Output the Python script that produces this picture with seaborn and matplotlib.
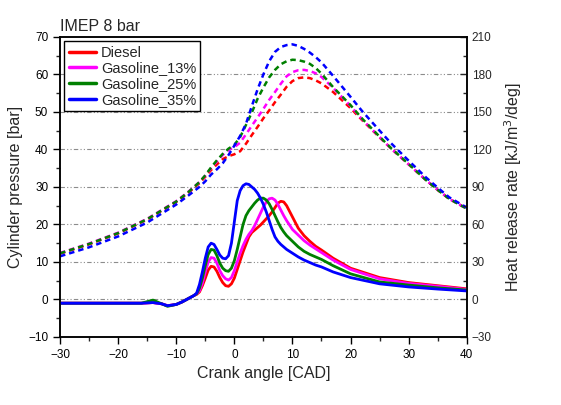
import numpy as np
import pandas as pd
import seaborn as sns
import matplotlib.pyplot as plt
from matplotlib.ticker import MultipleLocator

sns.set_style('ticks')
plt.rcParams['font.family'] = ['Liberation Sans', 'DejaVu Sans']

# Dados
fuels = ['Diesel', 'Gasoline_13%', 'Gasoline_25%', 'Gasoline_35%']
colors = ['#ff0000', '#ff00ff', '#008000', '#0000ff']

# pressão no cilindro [bar]
x_p = [-30, -25, -20, -15, -10, -8, -6, -5, -4, -3, -2, -1, 0, 1, 2, 3, 4, 5, 6, 7, 8,
       9, 10, 11, 12, 13, 14, 15, 17, 20, 22, 25, 27, 30, 33, 35, 37, 40]
p_diesel = [12.2, 14.7, 17.6, 21.3, 26.0, 28.3, 31.0, 32.7, 34.5, 36.0, 37.4, 38.2, 38.7,
            39.5, 41.5, 43.8, 46.0, 48.3, 50.4, 52.6, 54.6, 56.7, 58.2, 59.0, 59.2, 59.0,
            58.4, 57.6, 55.3, 51.0, 47.8, 43.2, 40.2, 36.0, 31.8, 29.2, 26.8, 24.2]
p_g13 = [12.4, 14.9, 17.8, 21.5, 26.2, 28.6, 31.3, 33.0, 35.0, 36.8, 38.5, 39.8, 40.6,
         41.8, 44.0, 46.3, 48.5, 50.8, 53.2, 55.3, 57.5, 59.5, 60.6, 61.1, 61.2, 60.9,
         60.3, 59.3, 56.4, 51.6, 48.0, 43.3, 40.2, 36.0, 31.8, 29.2, 26.8, 24.2]
p_g25 = [12.3, 14.8, 17.7, 21.4, 26.1, 28.5, 31.3, 33.1, 35.2, 37.1, 38.8, 40.2, 41.2,
         43.3, 46.5, 49.8, 53.5, 56.5, 59.2, 61.2, 62.7, 63.5, 63.9, 63.8, 63.4, 62.8,
         61.7, 60.2, 56.6, 51.8, 48.2, 43.4, 40.3, 36.1, 31.8, 29.2, 26.8, 24.2]
p_g35 = [11.5, 13.9, 16.8, 20.5, 25.3, 27.6, 30.0, 31.5, 33.3, 34.7, 36.3, 38.5, 41.0,
         43.6, 46.8, 51.5, 56.0, 60.0, 63.5, 66.0, 67.3, 67.8, 68.0, 67.6, 66.8, 65.8,
         64.6, 63.2, 59.6, 54.0, 50.2, 45.0, 41.6, 37.0, 32.5, 29.8, 27.2, 24.5]

# taxa de liberação de calor [kJ/m3/deg]
x_h = [-30, -25, -20, -16, -14, -12.5, -11.5, -10, -9, -8, -7, -6.5, -6, -5.5, -5, -4.5,
       -4, -3.5, -3, -2.5, -2, -1.5, -1, -0.5, 0, 0.5, 1, 1.5, 2, 2.5, 3, 3.5, 4, 4.5,
       5, 5.5, 6, 6.5, 7, 7.5, 8, 8.5, 9, 10, 11, 12, 13, 14, 15, 17, 20, 25, 30, 35, 40]
h_diesel = [-3, -3, -3, -3, -2.5, -3.5, -5, -4, -2, 0.5, 3, 4, 6, 11, 17, 23.5,
            26.5, 26, 22.5, 17.5, 13.5, 11, 10.5, 12.5, 17, 24, 31, 38, 44, 50, 53.5, 55.5,
            57.5, 59.5, 62, 64.5, 67, 70, 73.5, 77, 78.5, 78, 75, 66, 57, 51, 46.5, 42.5,
            39.5, 33, 25, 17.5, 13.5, 11, 8.5]
h_g13 = [-3, -3, -3, -3, -2.5, -3.5, -5, -4, -2, 0.5, 3, 4.5, 7, 13, 22, 30,
         33.5, 33, 29, 23, 19, 16.5, 15.5, 17.5, 23, 30, 37, 43, 48, 52, 55, 59,
         64, 69, 74, 78, 80.5, 81, 79.5, 76, 71.5, 67, 63, 56, 51.5, 47, 43.5, 40.5,
         37.5, 31.5, 24, 16.5, 12.8, 10.5, 8]
h_g25 = [-3, -3, -3, -3, -0.5, -3.5, -5.5, -4, -2, 0.5, 3, 4.5, 9, 17, 27, 36,
         40, 39.5, 35, 29, 25, 23, 22.5, 25, 31, 40, 50, 60, 67, 71, 74, 77,
         79.5, 81, 81, 79.5, 76.5, 72, 67, 62, 57.5, 54, 51, 46.5, 42, 38.5, 36, 34,
         32, 27, 20.5, 14, 11.5, 9.3, 7.5]
h_g35 = [-3, -3, -3, -3, -2.5, -3.5, -5, -4, -2, 0.5, 3, 5, 12, 22, 33, 42,
         45, 44, 40, 35.5, 33, 32.5, 35, 45, 62, 79, 87, 91, 92.5, 92, 90, 88,
         85, 81, 76, 70, 63, 56, 50, 46.5, 44, 42, 40, 37, 34, 31.5, 29.5, 27.5,
         26, 22, 17.5, 12.5, 10, 8.3, 6.8]

pressures = [p_diesel, p_g13, p_g25, p_g35]
hrrs = [h_diesel, h_g13, h_g25, h_g35]

fig = plt.figure(figsize=(5.61, 4.05), dpi=100)
ax = fig.add_axes([0.107, 0.168, 0.725, 0.741])
ax2 = ax.twinx()

# grade horizontal (traço-ponto-ponto)
for v in range(0, 70, 10):
    ax.axhline(v, color='#8c8c8c', lw=0.8, ls=(0, (4, 2, 1, 2, 1, 2)), zorder=0)

for nome, cor, p in zip(fuels, colors, pressures):
    sns.lineplot(x=x_p, y=p, ax=ax, color=cor, lw=1.8, linestyle=(0, (2.2, 1.6)))

for nome, cor, h in zip(fuels, colors, hrrs):
    sns.lineplot(x=x_h, y=h, ax=ax2, color=cor, lw=2.0, label=nome)

ax.set_xlim(-30, 40)
ax.set_ylim(-10, 70)
ax2.set_ylim(-30, 210)

ax.xaxis.set_major_locator(MultipleLocator(10))
ax.xaxis.set_minor_locator(MultipleLocator(5))
ax.yaxis.set_major_locator(MultipleLocator(10))
ax.yaxis.set_minor_locator(MultipleLocator(5))
ax2.yaxis.set_major_locator(MultipleLocator(30))
ax2.yaxis.set_minor_locator(MultipleLocator(15))

ax.tick_params(axis='both', which='major', direction='out', length=5, width=1,
               labelsize=8.5, colors='black')
ax.tick_params(axis='both', which='minor', direction='out', length=3, width=1)
ax.tick_params(axis='y', right=False)
ax2.tick_params(axis='y', which='major', direction='in', length=5, width=1, labelsize=8.5)
ax2.tick_params(axis='y', which='minor', direction='in', length=3, width=1)

for a in (ax, ax2):
    for s in a.spines.values():
        s.set_visible(True)
        s.set_linewidth(1.1)
        s.set_color('black')

ax.set_xlabel('Crank angle [CAD]', fontsize=11.5)
ax.set_ylabel('Cylinder pressure [bar]', fontsize=11.5)
ax2.set_ylabel('Heat release rate [kJ/m$^3$/deg]', fontsize=11.5, labelpad=8)
ax.set_title('IMEP 8 bar', fontsize=11.5, loc='left', pad=4)

leg = ax2.legend(loc='upper left', bbox_to_anchor=(0.0, 1.0), fontsize=10.5,
                 frameon=True, fancybox=False, edgecolor='black', framealpha=1,
                 handlelength=1.9, labelspacing=0.12, borderpad=0.3,
                 handletextpad=0.3, borderaxespad=0.3)
leg.get_frame().set_linewidth(1.0)
for ln in leg.get_lines():
    ln.set_linewidth(2.5)

fig.savefig('out.png', dpi=100)
